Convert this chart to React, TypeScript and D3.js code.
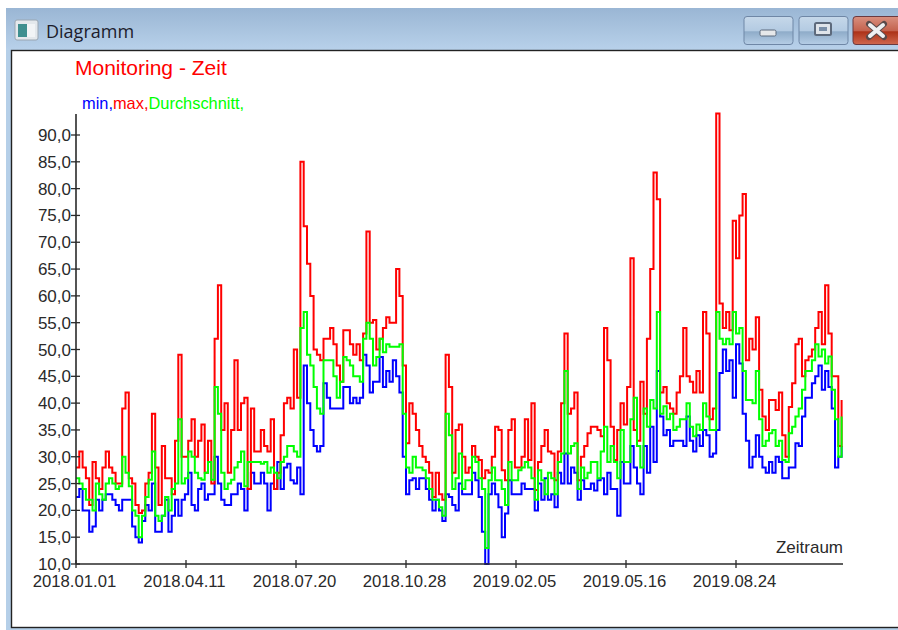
import React from "react";
import * as d3 from "d3";

// values read every third day
const stepDays = 3;
const dateLabels = ["2018.01.01","2018.04.11","2018.07.20","2018.10.28","2019.02.05","2019.05.16","2019.08.24"];
const dateTicks = [0,100,200,300,400,500,600];
const valueTicks = [10,15,20,25,30,35,40,45,50,55,60,65,70,75,80,85,90];

const maxValues = [
28,31,28,26,21,29,26,24,28,31,28,27,25,25,39,42,26,25,21,19.5,20,25,27,38,28,21,32,26,26,23,33,49,30,30,33,37,30,33,
36,27,33,25,52,62,35,40,27,35,48,35,40,41,24,39,31,31,35,32,31,37,24,27,34,40,41,39,50,41,
85,73,66,60,50,49,48,52,52,54,51,47,44,53.6,53.6,51,49,51,48,53,72,55,55.5,50,52,54,56,55,55,65,60,47,
32.5,40,38,35,32,30,29,27,22.5,27,23,22,49,43,27,35,36,30,
27,28,32,30,29.4,26,27.5,27,30,35.6,35,27.5,25.6,35,37,28,28,30,37,29.4,40,23.8,29,32,35,31,30.6,25.6,31,40,53,38,39,42,25.6,30,32,34.4,35.6,
35.6,35,33.8,54,48,35.6,29.4,35,40,36,43,67,35,33,44,38,52,65,83,78,42,43,40,39,38,42,45,54,45,44,42,46,42,57,53,37,39,
94,58.6,54,57,53.6,74,67,75,79,48,52,50,56,42.5,37.5,35,40.6,40.6,38.7,42,34,30,39.3,43.7,51,52,45,48,48.7,50,54,57,51,62,53,45,45,32,40.6
];

const minValues = [
22.5,24,20,20,16,17,22,20,22,23,23,22,21,20,22,22,22,17,15,14,18,21,20,25,16,16,19,22,16,19,22,19,22,23,27,21,20,24,25,22,23,23,30,25,22,21,21,23,23,25,24,20,24,27,25,25,27,25,20,25,24,29,24,28,
28.7,25.6,25,28,23,47,40,35,32,31,32,43.7,41,39,39,39,39,43,43,40,41,40,41,49,47,42,44,44,48.6,43,46,44,48,45,42,30,
23,25.6,26,24,26,26,24,22,20,22,20,18,23,22.5,21,20,25,23,
23,23,27,25.6,22.5,16,10,23,25,23,20.6,15,19.4,25.6,23,23,23,25,24,24,24,20,25,22,26,22,23,20.6,27,25,30.6,25,28,27,22,25.6,24,24,25,
23.7,25.6,26,23,27,24,24,19,29,25,25,32,28,25,23,32,27,35.6,29,46,37.5,34,35,32,33,33,33,32,37.5,33,31,34,32,35,34,30,30.6,
35,45.6,50,46,48,41,51,47.4,38,33,28,30,34,30,28,27,29,27,30,29,26,26,28,28,32.5,32,37.5,41,41,43.7,45,47,42.5,46,43,39,28,30,32
];

const avgValues = [
26,25,24,22,22,20,25,23,22,25,26,25,24,24.5,30,27,24.5,20,19,15,19,22.5,25.7,31,19,18,19,22.5,20,24,25,37,25,26,31,30,27,26,25.7,27,29,25.7,43,38,27,24,25,25.7,28,29,31,24.5,29,29,29,29,28.7,29,27,28,27,26,29,30,32,32,31,30,
54,57,49,47,43,39,38,48,48,48,45,41,44,48.6,48,47,45,45,44,52,55,52,47,48.6,52,49.5,51,50.5,50.5,50.5,51,38,
28,27,30,28,28,27.5,26,24,22,22,20.6,19,38,34,24,26,30.6,24,
25.6,25.6,30,29,26,24,13,25.6,28,25.6,25.6,24,21,29,25.6,25.6,27.5,28,29,28,26,22,27.5,25.6,23,27,26,23,29,30.6,46,30.6,32,32.5,24,28,26,27,29,
29,26,31,35.6,29,32,29,26,35,29,29,37,41,32,28,39,35.6,40.6,39,57,38,39.4,37,38,35,35.6,37,37,40,35.6,33.8,36,35,40,37.5,35,35,
57,52,51,52,51,57,53,54,46,40.6,40.6,40,46,37,32,33,34.4,35,32,33,29.4,29,34.4,35.6,37.5,39,42.5,46,46,48,51,48.7,50,47.4,48.7,42.5,37,30,37.5
];

const seriesColors = ["#0000ff", "#ff0000", "#00ff00"];
const seriesValues = [minValues, maxValues, avgValues];
const legendNames = ["min,", "max,", "Durchschnitt,"];

const x = d3.scaleLinear().domain([0, 600]).range([76, 736]);
const y = d3.scaleLinear().domain([10, 90]).range([564, 135]);
const line = d3.line<number>().x((_, i) => x(i * stepDays)).y(v => y(v)).curve(d3.curveStepAfter);

const font = "'Liberation Sans', Arial, sans-serif";
const ink = "#2a2a2a";

function WinButton({ x0, w, close, children }: { x0: number; w: number; close?: boolean; children?: React.ReactNode }) {
  return (
    <g>
      <rect x={x0} y={16.5} width={w} height={28} rx={3} fill={close ? "url(#closeGrad)" : "url(#btnGrad)"} stroke={close ? "#6b3a40" : "#6f87a6"} strokeWidth={1} />
      {children}
    </g>
  );
}

export default function App() {
  return (
    <svg width={898} height={630} style={{ position: "fixed", left: 0, top: 0, background: "#fff" }}>
      <defs>
        <linearGradient id="titleGrad" x1="0" y1="0" x2="0" y2="1">
          <stop offset="0" stopColor="#9ab6d4" />
          <stop offset="1" stopColor="#b8d1ea" />
        </linearGradient>
        <linearGradient id="btnGrad" x1="0" y1="0" x2="0" y2="1">
          <stop offset="0" stopColor="#c6d8ea" />
          <stop offset="0.5" stopColor="#b4cbe2" />
          <stop offset="0.55" stopColor="#8facc9" />
          <stop offset="1" stopColor="#b6cee6" />
        </linearGradient>
        <linearGradient id="closeGrad" x1="0" y1="0" x2="0" y2="1">
          <stop offset="0" stopColor="#d9907f" />
          <stop offset="0.5" stopColor="#c4634f" />
          <stop offset="0.55" stopColor="#ad3218" />
          <stop offset="1" stopColor="#d0684e" />
        </linearGradient>
      </defs>

      {/* window frame */}
      <rect x={6} y={8} width={892} height={622} fill="#b5cfe8" />
      <rect x={6} y={8} width={892} height={42} fill="url(#titleGrad)" />
      <rect x={11.5} y={50.5} width={890} height={577} fill="#fff" stroke="#222" strokeWidth={1.4} />

      {/* icon and title */}
      <rect x={15} y={20} width={23} height={20} rx={2} fill="#e4e8ec" stroke="#9aa6b2" />
      <rect x={18} y={24} width={9} height={13} fill="#3f8f8f" />
      <rect x={27} y={24} width={8} height={13} fill="#f2f4f6" />
      <text x={46} y={38} fontFamily="'Open Sans', sans-serif" fontSize={18} fill="#1c1c2c">Diagramm</text>

      {/* window buttons */}
      <WinButton x0={744} w={49}>
        <rect x={760} y={30} width={16} height={6} rx={1.5} fill="#e6e8ea" stroke="#5d6a7c" />
      </WinButton>
      <WinButton x0={799} w={49}>
        <rect x={815} y={23} width={16} height={12} rx={1.5} fill="#dfe4ea" stroke="#5d6a7c" strokeWidth={2} />
        <rect x={819} y={27} width={8} height={4} fill="#7a8fa8" />
      </WinButton>
      <WinButton x0={853} w={50} close>
        <path d="M869 24 L884 37 M884 24 L869 37" stroke="#5a4a4a" strokeWidth={6} strokeLinecap="round" />
        <path d="M870 25 L883 36 M883 25 L870 36" stroke="#eef0f2" strokeWidth={4} strokeLinecap="round" />
      </WinButton>

      {/* headings */}
      <text x={75} y={75} fontFamily={font} fontSize={21} fill="#ff0000">Monitoring - Zeit</text>
      <text x={82} y={109} fontFamily={font} fontSize={16.4}>
        {legendNames.map((n, i) => <tspan key={n} fill={seriesColors[i]}>{n}</tspan>)}
      </text>

      {/* series */}
      {seriesValues.map((vals, i) => (
        <path key={i} d={line(vals) ?? ""} fill="none" stroke={seriesColors[i]} strokeWidth={2} strokeLinejoin="miter" />
      ))}

      {/* axes */}
      <line x1={x(0)} x2={x(0)} y1={114} y2={y(10)} stroke={ink} strokeWidth={1.6} />
      <line x1={x(0)} x2={843} y1={y(10)} y2={y(10)} stroke={ink} strokeWidth={1.6} />
      {valueTicks.map(v => (
        <g key={v}>
          <line x1={71} x2={80} y1={y(v)} y2={y(v)} stroke={ink} strokeWidth={1.3} />
          <text x={71} y={y(v) + 6} textAnchor="end" fontFamily={font} fontSize={17} fill={ink}>{d3.format(".1f")(v).replace(".", ",")}</text>
        </g>
      ))}
      {dateTicks.map((d, i) => (
        <g key={d}>
          <line x1={x(d)} x2={x(d)} y1={560} y2={568} stroke={ink} strokeWidth={1.3} />
          <text x={x(d) - 1.5} y={587} textAnchor="middle" fontFamily={font} fontSize={16.7} fill={ink}>{dateLabels[i]}</text>
        </g>
      ))}
      <text x={843} y={553} textAnchor="end" fontFamily={font} fontSize={17} fill={ink}>Zeitraum</text>
    </svg>
  );
}
